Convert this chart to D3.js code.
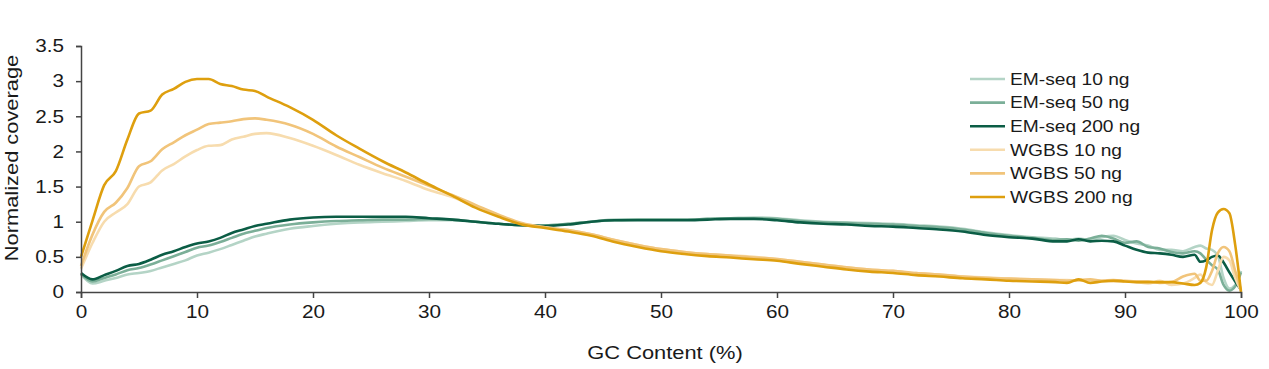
<!DOCTYPE html>
<html><head><meta charset="utf-8">
<script src="https://cdn.jsdelivr.net/npm/d3@7"></script>
<style>
html,body{margin:0;padding:0;background:#fff;}
svg text{font-family:"Liberation Sans",Arial,Helvetica,sans-serif;fill:#1a1a1a;}
</style></head>
<body><svg id="chart" width="1269" height="369"></svg>
<script>
const gc = [0,1,2,3,4,5,6,7,8,9,10,11,12,13,14,15,16,18,20,22,24,26,28,30,32,34,36,38,40,42,44,46,48,50,52,54,56,58,60,62,64,66,68,70,72,74,76,78,80,82,84,85,86,87,88,89,90,91,92,93,94,95,96,96.5,97,97.5,98,98.5,99,99.5,100];

const emseq10 = [0.25,0.12,0.16,0.20,0.25,0.27,0.30,0.35,0.40,0.45,0.52,0.56,0.61,0.67,0.73,0.79,0.83,0.90,0.94,0.97,0.99,1.00,1.01,1.02,1.02,1.00,0.97,0.95,0.95,0.97,1.00,1.03,1.03,1.03,1.03,1.04,1.05,1.06,1.05,1.02,1.00,0.99,0.98,0.97,0.95,0.93,0.90,0.85,0.81,0.78,0.76,0.74,0.76,0.74,0.78,0.80,0.74,0.69,0.66,0.60,0.60,0.58,0.64,0.66,0.62,0.60,0.52,0.20,0.05,0.10,0.30];
const emseq50 = [0.26,0.15,0.20,0.25,0.31,0.34,0.39,0.45,0.51,0.57,0.63,0.66,0.71,0.77,0.83,0.87,0.91,0.96,0.99,1.01,1.02,1.03,1.03,1.04,1.03,1.00,0.97,0.95,0.95,0.97,1.00,1.02,1.03,1.03,1.03,1.04,1.05,1.05,1.04,1.01,0.99,0.98,0.97,0.96,0.94,0.92,0.89,0.84,0.80,0.77,0.74,0.75,0.73,0.76,0.80,0.76,0.70,0.72,0.64,0.62,0.57,0.55,0.58,0.55,0.46,0.38,0.32,0.10,0.02,0.08,0.28];
const emseq200 = [0.27,0.18,0.24,0.30,0.37,0.40,0.46,0.53,0.58,0.64,0.69,0.72,0.77,0.84,0.89,0.94,0.97,1.03,1.06,1.07,1.07,1.07,1.07,1.05,1.03,1.00,0.97,0.95,0.94,0.96,1.00,1.02,1.02,1.02,1.02,1.03,1.04,1.04,1.02,0.99,0.97,0.96,0.94,0.93,0.91,0.89,0.86,0.81,0.78,0.76,0.72,0.72,0.75,0.72,0.73,0.72,0.66,0.60,0.56,0.55,0.53,0.50,0.53,0.43,0.45,0.50,0.52,0.42,0.28,0.15,0.03];
const wgbs10 = [0.33,0.70,1.00,1.13,1.25,1.50,1.56,1.73,1.82,1.93,2.02,2.08,2.09,2.17,2.21,2.25,2.26,2.19,2.08,1.95,1.81,1.69,1.58,1.45,1.35,1.22,1.09,0.97,0.92,0.88,0.82,0.74,0.67,0.61,0.57,0.54,0.52,0.50,0.47,0.43,0.39,0.35,0.32,0.30,0.27,0.25,0.22,0.21,0.19,0.18,0.17,0.17,0.16,0.17,0.16,0.15,0.15,0.14,0.12,0.16,0.10,0.12,0.20,0.25,0.14,0.10,0.30,0.50,0.45,0.20,0.02];
const wgbs50 = [0.37,0.82,1.14,1.27,1.48,1.79,1.86,2.03,2.13,2.23,2.31,2.39,2.41,2.43,2.46,2.47,2.45,2.38,2.25,2.07,1.92,1.77,1.64,1.51,1.38,1.24,1.10,0.98,0.92,0.88,0.82,0.74,0.67,0.61,0.57,0.54,0.52,0.49,0.47,0.43,0.39,0.35,0.32,0.30,0.27,0.25,0.22,0.20,0.19,0.18,0.17,0.16,0.17,0.18,0.16,0.17,0.16,0.15,0.15,0.13,0.14,0.22,0.26,0.16,0.16,0.30,0.55,0.64,0.58,0.30,0.03];
const wgbs200 = [0.50,1.02,1.52,1.72,2.17,2.54,2.58,2.81,2.89,2.99,3.03,3.03,2.96,2.93,2.88,2.86,2.78,2.63,2.45,2.23,2.04,1.86,1.70,1.53,1.37,1.20,1.07,0.96,0.91,0.86,0.80,0.71,0.64,0.58,0.54,0.51,0.49,0.465,0.445,0.40,0.36,0.32,0.29,0.27,0.24,0.22,0.195,0.18,0.16,0.15,0.14,0.13,0.18,0.13,0.15,0.16,0.15,0.14,0.14,0.14,0.14,0.12,0.10,0.13,0.35,0.88,1.13,1.18,1.12,0.67,0.0];

const seriesNames = ["EM-seq 10 ng","EM-seq 50 ng","EM-seq 200 ng","WGBS 10 ng","WGBS 50 ng","WGBS 200 ng"];
const seriesValues = [emseq10, emseq50, emseq200, wgbs10, wgbs50, wgbs200];
const seriesColors = ["#b4d4c6","#7baf98","#0b5d45","#f7dcae","#f1c47a","#de9f0e"];
const xTicks = [0,10,20,30,40,50,60,70,80,90,100];
const yTicks = [0,0.5,1,1.5,2,2.5,3,3.5];
const xTitle = "GC Content (%)";
const yTitle = "Normalized coverage";

const svg = d3.select("#chart");
const x = d3.scaleLinear().domain([0,100]).range([81,1241]);
const y = d3.scaleLinear().domain([0,3.5]).range([292,46]);

const line = d3.line().x(d=>x(d[0])).y(d=>y(d[1])).curve(d3.curveMonotoneX);

seriesValues.forEach((vals,i)=>{
  svg.append("path")
    .datum(gc.map((g,j)=>[g,vals[j]]))
    .attr("fill","none")
    .attr("stroke",seriesColors[i])
    .attr("stroke-width",2.6)
    .attr("stroke-linejoin","round")
    .attr("d",line);
});

const gx = svg.append("g").attr("transform","translate(0,292)")
  .call(d3.axisBottom(x).tickValues(xTicks).tickSize(6).tickPadding(7).tickFormat(d3.format("d")));
const gy = svg.append("g").attr("transform","translate(81,0)")
  .call(d3.axisLeft(y).tickValues(yTicks).tickSize(5).tickPadding(12).tickFormat(d=>String(d)));
[gx,gy].forEach(g=>{
  g.select(".domain").attr("stroke","#444").attr("stroke-width",1.5);
  g.selectAll(".tick line").attr("stroke","#444").attr("stroke-width",1.5);
  g.selectAll(".tick text").attr("font-size",18).attr("fill","#1a1a1a")
    .attr("font-family","Liberation Sans, Arial, sans-serif");
});

svg.append("text").attr("x",665).attr("y",359)
  .attr("text-anchor","middle").attr("font-size",19).text(xTitle);
svg.append("text")
  .attr("transform","translate(18,158) rotate(-90)")
  .attr("text-anchor","middle").attr("font-size",19).text(yTitle);

const leg = svg.append("g");
seriesNames.forEach((n,i)=>{
  const yy = 79 + i*23.6;
  leg.append("line").attr("x1",970).attr("x2",1005).attr("y1",yy).attr("y2",yy)
    .attr("stroke",seriesColors[i]).attr("stroke-width",2.6);
  leg.append("text").attr("class","legtext").attr("x",1010).attr("y",yy).attr("dy","0.36em")
    .attr("font-size",16).text(n);
});

// horizontally widen text like the reference
svg.selectAll("text").each(function(){
  const w = this.getComputedTextLength();
  const f = this.getAttribute("class") === "legtext" ? 1.2 : 1.15;
  d3.select(this).attr("textLength", w*f).attr("lengthAdjust","spacingAndGlyphs");
});
</script></body></html>
